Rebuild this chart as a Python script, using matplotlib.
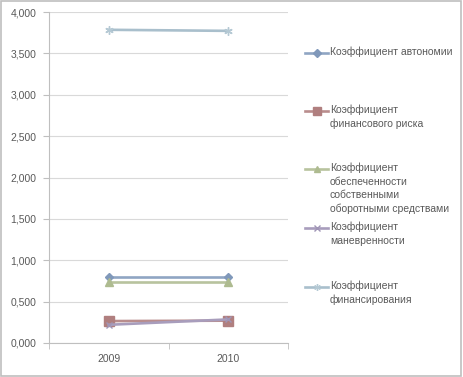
import matplotlib
matplotlib.use("Agg")
import matplotlib.pyplot as plt
from matplotlib.lines import Line2D
from matplotlib.patches import Rectangle

# data
years = ["2009", "2010"]
autonomy = [0.795, 0.795]
fin_risk = [0.265, 0.270]
own_funds = [0.735, 0.735]
maneuver = [0.220, 0.285]
financing = [3.785, 3.772]

labels = [
    "Коэффициент автономии",
    "Коэффициент\nфинансового риска",
    "Коэффициент\nобеспеченности\nсобственными\nоборотными средствами",
    "Коэффициент\nманевренности",
    "Коэффициент\nфинансирования",
]
series = [autonomy, fin_risk, own_funds, maneuver, financing]
line_colors = ["#8FA5C3", "#B98D8D", "#B8C39E", "#A89DBC", "#A9BFCC"]
marker_colors = ["#8098BA", "#B07F7F", "#AEBB90", "#A095B6", "#B5C9D4"]
markers = ["D", "s", "^", "x", (6, 2, 0)]
msizes = [4.5, 7, 6, 5, 6]

plt.rcParams["font.family"] = ["Liberation Sans", "DejaVu Sans"]
text_col = "#595959"

fig = plt.figure(figsize=(4.63, 3.77), dpi=100)
ax = fig.add_axes([49 / 463, 1 - 343 / 377, 239 / 463, 331 / 377])

x = list(range(len(years)))
for vals, lc, mc, mk, ms in zip(series, line_colors, marker_colors, markers, msizes):
    ax.plot(x, vals, color=lc, lw=1.9, marker=mk, markersize=ms,
            markerfacecolor=mc, markeredgecolor=mc, markeredgewidth=1.0)

ax.set_xlim(-0.5, 1.5)
ax.set_ylim(0, 4)
yt = [0, 0.5, 1, 1.5, 2, 2.5, 3, 3.5, 4]
ax.set_yticks(yt)
ax.set_yticklabels([f"{v:.3f}".replace(".", ",") for v in yt])
ax.set_xticks(x)
ax.set_xticklabels(years)
ax.set_xticks([-0.5, 0.5, 1.5], minor=True)
ax.tick_params(axis="x", which="major", length=0, pad=8, labelsize=7.5, colors=text_col)
ax.tick_params(axis="x", which="minor", length=4, color="#BFBFBF", direction="out")
ax.tick_params(axis="y", length=4, color="#BFBFBF", labelsize=7.5, labelcolor=text_col, pad=5)
ax.grid(axis="y", color="#D9D9D9", lw=0.8)
ax.set_axisbelow(True)
for s in ["top", "right"]:
    ax.spines[s].set_visible(False)
for s in ["left", "bottom"]:
    ax.spines[s].set_color("#BFBFBF")
    ax.spines[s].set_linewidth(0.8)

# legend drawn by hand so multi-line entries line up like the original
entry_tops = [53, 111, 169, 228, 287]
for lab, lc, mc, mk, ms, ytop in zip(labels, line_colors, marker_colors, markers, msizes, entry_tops):
    yf = 1 - ytop / 377
    fig.add_artist(Line2D([305 / 463, 328 / 463], [yf, yf], color=lc, lw=1.9,
                          transform=fig.transFigure))
    fig.add_artist(Line2D([316.5 / 463], [yf], marker=mk, markersize=ms * 0.8,
                          markerfacecolor=mc, markeredgecolor=mc, color=lc,
                          transform=fig.transFigure))
    fig.text(330 / 463, yf + 6.5 / 377, lab, fontsize=7.5, color=text_col,
             va="top", ha="left", linespacing=1.45)

fig.add_artist(Rectangle((0.003, 0.003), 0.993, 0.994, transform=fig.transFigure,
                         fill=False, edgecolor="#BFBFBF", lw=1.2))

fig.savefig("out.png", dpi=100)
